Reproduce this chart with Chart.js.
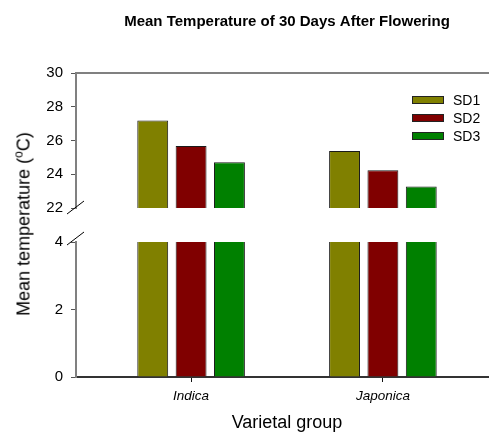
<!DOCTYPE html>
<html>
<head>
<meta charset="utf-8">
<script src="https://cdn.jsdelivr.net/npm/chart.js@4"></script>
<style>
  html, body { margin: 0; padding: 0; background: #fff; overflow: hidden; width: 489px; height: 434px; }
  #wrap { position: relative; width: 489px; height: 434px; overflow: hidden; font-family: Arial, "Liberation Sans", sans-serif; }
  canvas { position: absolute; left: 0; }
  #up { top: 0; }
  #low { top: 225px; }
  #ytitle { position: absolute; left: 24px; top: 224px; transform: translate(-50%, -50%) rotate(-90deg); white-space: nowrap; font-size: 18px; color: #000; }
  #ytitle sup { font-size: 12px; line-height: 0; vertical-align: 0.55em; }
  .row { position: absolute; left: 412px; height: 18px; line-height: 18px; font-size: 14px; color: #000; white-space: nowrap; }
  .box { position: absolute; left: 0; top: 5px; width: 30px; height: 6px; border: 1px solid #222; }
  .lbl { position: absolute; left: 41px; top: 0; }
</style>
</head>
<body>
<div id="wrap">
  <canvas id="up" width="498" height="225"></canvas>
  <canvas id="low" width="498" height="209"></canvas>
  <div id="ytitle">Mean temperature (<sup>o</sup>C)</div>
  <div id="legend"></div>
</div>
<script>
// data
const categories = ['Indica', 'Japonica'];
const seriesNames = ['SD1', 'SD2', 'SD3'];
const sd1 = [27.18, 25.38];
const sd2 = [25.67, 24.23];
const sd3 = [24.71, 23.27];
const upperTicks = [22, 24, 26, 28, 30];
const lowerTicks = [0, 2, 4];
const colors = ['#808000', '#800000', '#008000'];

const series = [sd1, sd2, sd3];
const positions = categories.map((c, i) => i + 1);

function makeDatasets() {
    return series.map((vals, k) => ({
        label: seriesNames[k],
        data: vals.map((v, i) => ({ x: positions[i], y: v })),
        backgroundColor: colors[k],
        borderColor: '#1a1a1a',
        borderWidth: 1,
        borderSkipped: 'start',
        categoryPercentage: 0.6,
        barPercentage: 0.805,
        clip: 0
    }));
}

// little "//" marks where the axis is broken
const breakMarks = {
    id: 'breakMarks',
    afterDraw(chart, args, opts) {
        const a = chart.chartArea;
        const c = chart.ctx;
        const y = opts.atTop ? a.top : a.bottom;
        const d = opts.atTop ? -3 : 0;
        c.save();
        c.strokeStyle = '#000';
        c.lineWidth = 1;
        [a.left, a.right].forEach(x => {
            c.beginPath();
            c.moveTo(x - 9, y + 6 + d);
            c.lineTo(x + 8, y - 7 + d);
            c.stroke();
        });
        c.restore();
    }
};

const tickFont = { family: 'Arial, "Liberation Sans", sans-serif', size: 15 };

function yScale(ticksList) {
    return {
        type: 'linear',
        min: ticksList[0],
        max: ticksList[ticksList.length - 1],
        afterBuildTicks: s => { s.ticks = ticksList.map(v => ({ value: v })); },
        afterFit: s => { s.width = 76; },
        ticks: { color: '#000', font: tickFont, padding: 8 },
        grid: { drawOnChartArea: false, drawTicks: true, tickLength: 5, color: '#555' },
        border: { display: true, color: '#808080', width: 2 }
    };
}

function xBase() {
    return {
        type: 'linear',
        min: 0.4,
        max: 2.6,
        offset: false,
        bounds: 'data',
        afterBuildTicks: s => { s.ticks = positions.map(v => ({ value: v })); }
    };
}

const upper = new Chart(document.getElementById('up').getContext('2d'), {
    type: 'bar',
    data: { datasets: makeDatasets() },
    plugins: [breakMarks],
    options: {
        responsive: false,
        animation: false,
        layout: { padding: { left: 0, right: 0, top: 0, bottom: 13 } },
        plugins: {
            legend: { display: false },
            tooltip: { enabled: false },
            title: {
                display: true,
                fullSize: false,
                text: 'Mean Temperature of 30 Days After Flowering',
                color: '#000',
                font: { family: 'Arial, "Liberation Sans", sans-serif', size: 15, weight: 'bold', lineHeight: 1.2 },
                padding: { top: 13, bottom: 42 }
            },
            breakMarks: { atTop: false }
        },
        scales: {
            x: Object.assign(xBase(), {
                position: 'top',
                afterFit: s => { s.height = 0; },
                ticks: { display: false },
                grid: { display: false, offset: false },
                border: { display: true, color: '#808080', width: 2 }
            }),
            y: yScale(upperTicks)
        }
    }
});

const lower = new Chart(document.getElementById('low').getContext('2d'), {
    type: 'bar',
    data: { datasets: makeDatasets() },
    plugins: [breakMarks],
    options: {
        responsive: false,
        animation: false,
        layout: { padding: { left: 0, right: 0, top: 13, bottom: 0 } },
        plugins: {
            legend: { display: false },
            tooltip: { enabled: false },
            breakMarks: { atTop: true }
        },
        scales: {
            x: Object.assign(xBase(), {
                position: 'bottom',
                afterFit: s => { s.height = 57; },
                ticks: {
                    color: '#000',
                    padding: 6,
                    font: { family: 'Arial, "Liberation Sans", sans-serif', size: 13.5, style: 'italic' },
                    callback: v => categories[v - 1]
                },
                grid: { offset: false, drawOnChartArea: false, drawTicks: true, tickLength: 5, color: '#111' },
                border: { display: true, color: '#333', width: 2 },
                title: {
                    display: true,
                    text: 'Varietal group',
                    color: '#000',
                    font: { family: 'Arial, "Liberation Sans", sans-serif', size: 18 },
                    padding: { top: 0, bottom: 0 }
                }
            }),
            y: yScale(lowerTicks)
        }
    }
});

// legend built from the series names and colours
const legend = document.getElementById('legend');
seriesNames.forEach((name, k) => {
    const row = document.createElement('div');
    row.className = 'row';
    row.style.top = (91 + 18 * k) + 'px';
    const box = document.createElement('div');
    box.className = 'box';
    box.style.background = colors[k];
    const lbl = document.createElement('span');
    lbl.className = 'lbl';
    lbl.textContent = name;
    row.appendChild(box);
    row.appendChild(lbl);
    legend.appendChild(row);
});
</script>
</body>
</html>
